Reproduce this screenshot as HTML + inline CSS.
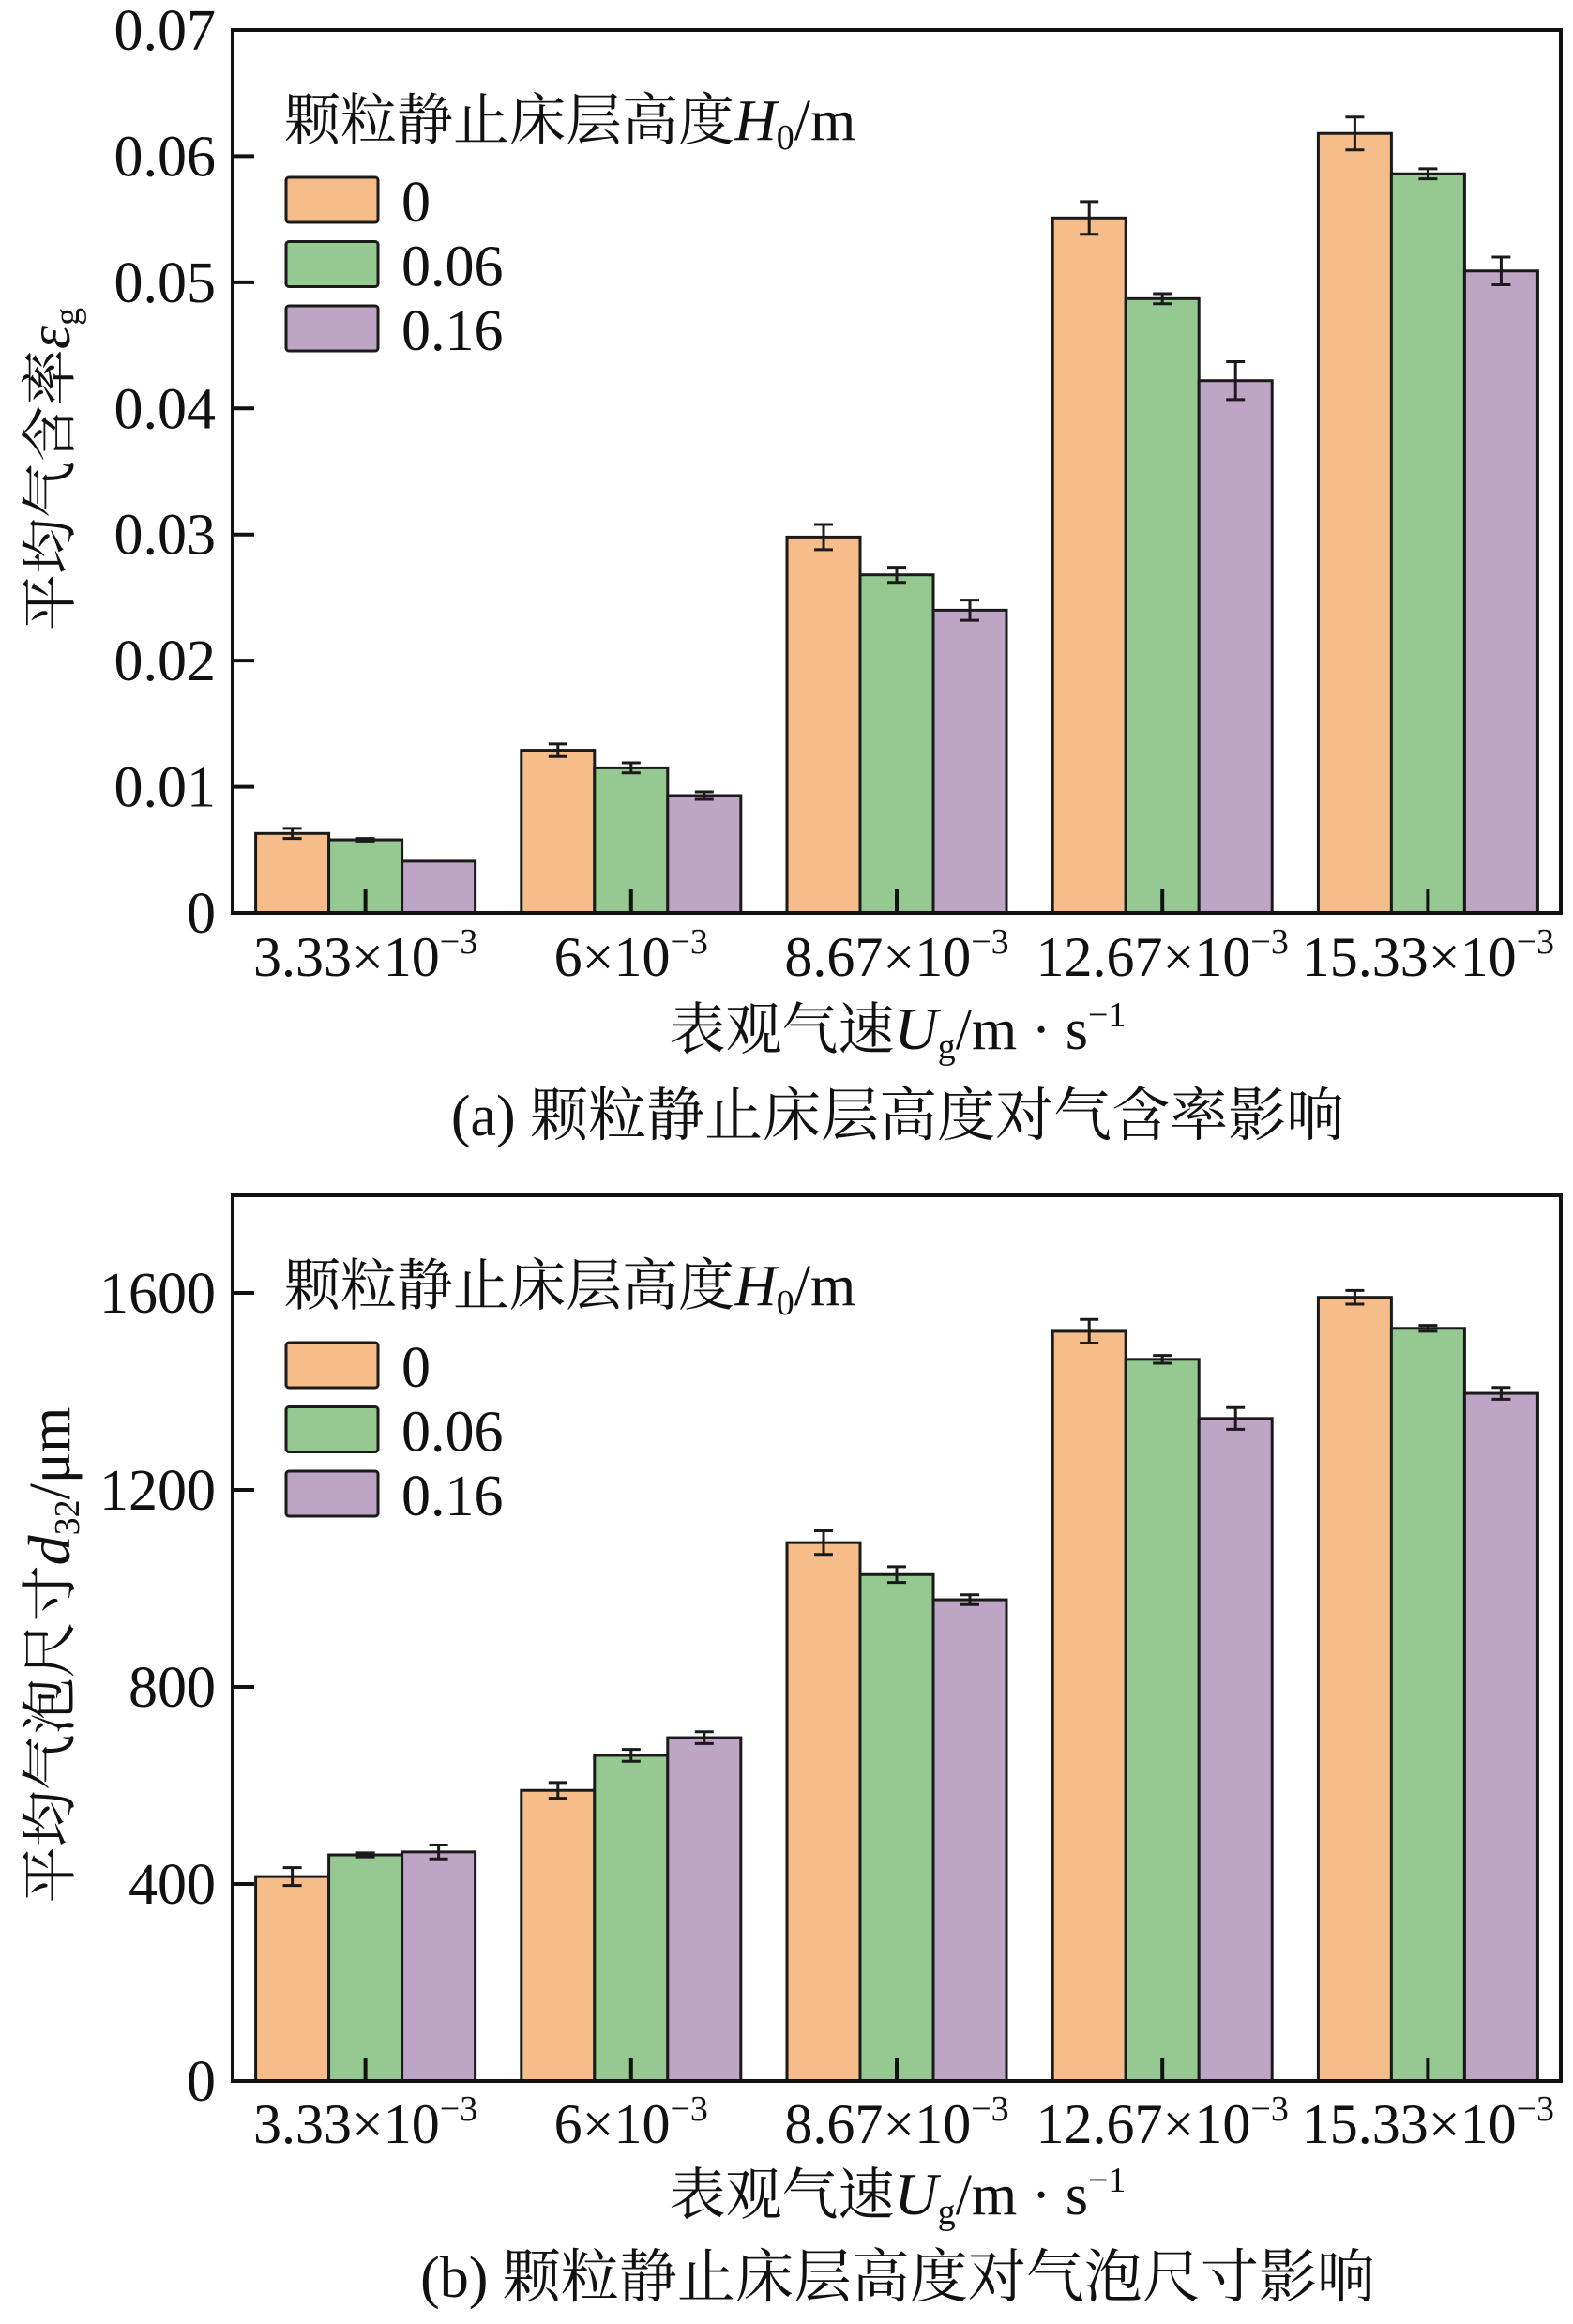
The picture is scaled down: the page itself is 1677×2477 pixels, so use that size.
<!DOCTYPE html>
<html><head><meta charset="utf-8">
<style>
html,body{margin:0;padding:0;background:#fff;}
svg{display:block;}
text{font-family:"Liberation Serif","Noto Serif CJK SC",serif;fill:#111;}
</style></head>
<body>
<svg id="svg" width="1677" height="2477" viewBox="0 0 1677 2477" xmlns="http://www.w3.org/2000/svg"></svg>
<script>
const categories = ["3.33","6","8.67","12.67","15.33"];
const seriesNames = ["0","0.06","0.16"];
const colors = ["#f6bd8a","#95c991","#bea4c5"];
// chart a: gas holdup
const holdA0 = [0.0063,0.0129,0.0298,0.0551,0.0618];
const holdA1 = [0.0058,0.0115,0.0268,0.0487,0.0586];
const holdA2 = [0.0041,0.0093,0.0240,0.0422,0.0509];
const errA0 = [0.0004,0.0005,0.0010,0.0013,0.0013];
const errA1 = [0.0001,0.0004,0.0006,0.0004,0.0004];
const errA2 = [0.0000,0.0003,0.0008,0.0015,0.0011];
const ticksA = [0,0.01,0.02,0.03,0.04,0.05,0.06,0.07];
const tickLabelsA = ["0","0.01","0.02","0.03","0.04","0.05","0.06","0.07"];
// chart b: bubble size
const sizeB0 = [415,590,1093,1522,1591];
const sizeB1 = [459,661,1028,1465,1528];
const sizeB2 = [465,697,977,1345,1396];
const errB0 = [18,16,24,24,14];
const errB1 = [4,12,16,8,6];
const errB2 = [14,12,10,22,12];
const ticksB = [0,400,800,1200,1600];
const tickLabelsB = ["0","400","800","1200","1600"];

const NS="http://www.w3.org/2000/svg";
const svg=document.getElementById('svg');
function el(tag,attrs,parent){const e=document.createElementNS(NS,tag);for(const k in attrs)e.setAttribute(k,attrs[k]);(parent||svg).appendChild(e);return e;}

function drawChart(cfg){
  const g=el('g',{});
  
  
  const L=248,R=1664,T=cfg.top,B=cfg.bottom;
  const y=v=>B-(v/cfg.ymax)*(B-T);
  const gw=(R-L)/categories.length;
  const bw=78;
  const cx=i=>L+gw*(i+0.5);
  const vals=[cfg.v0,cfg.v1,cfg.v2], errs=[cfg.e0,cfg.e1,cfg.e2];
  for(let s=0;s<3;s++){
    for(let i=0;i<categories.length;i++){
      const x0=cx(i)+(s-1.5)*bw;
      const r=el('rect',{x:x0,y:y(vals[s][i]),width:bw,height:B-y(vals[s][i]),fill:colors[s],stroke:'#1a1a1a','stroke-width':3},g);
      
      
      const xc=x0+bw/2, e=errs[s][i];
      if(e>0){
        const eb=el('path',{d:`M${xc},${y(vals[s][i]+e)}V${y(vals[s][i]-e)}M${xc-10},${y(vals[s][i]+e)}h20M${xc-10},${y(vals[s][i]-e)}h20`,stroke:'#1a1a1a','stroke-width':3,fill:'none'},g);
        
        
      }
    }
  }
  const frame=el('rect',{x:L,y:T,width:R-L,height:B-T,fill:'none',stroke:'#111','stroke-width':4},g);
  
  
  cfg.ticks.forEach((t,k)=>{
    el('line',{x1:L,x2:L+23,y1:y(t),y2:y(t),stroke:'#111','stroke-width':4},g);
    const tx=el('text',{x:230,y:y(t)+21,'text-anchor':'end','font-size':62},g);
    tx.textContent=cfg.tickLabels[k];
    
    
  });
  categories.forEach((c,i)=>{
    el('line',{x1:cx(i),x2:cx(i),y1:B,y2:B-25,stroke:'#111','stroke-width':4},g);
    const tx=el('text',{x:cx(i),y:cfg.xlabY,'text-anchor':'middle','font-size':60},g);
    tx.innerHTML=c+'×10<tspan dy="-24" font-size="38">−3</tspan>';
    
    
  });
  // legend
  const lt=el('text',{x:303,y:T+117,'font-size':60},g);
  lt.innerHTML='颗粒静止床层高度<tspan font-style="italic" font-size="62">H</tspan><tspan font-size="38" dy="10">0</tspan><tspan font-size="62" dy="-10">/m</tspan>';
  
  
  seriesNames.forEach((n,s)=>{
    const by=T+157+s*68.5;
    const r=el('rect',{x:305,y:by,width:98,height:48,rx:3,fill:colors[s],stroke:'#1a1a1a','stroke-width':3},g);
    
    
    const t=el('text',{x:428,y:by+47,'font-size':62},g);
    t.textContent=n;
    
    
  });
  const yt=el('text',{x:0,y:0,'font-size':60,'text-anchor':'middle',transform:`translate(74,${cfg.ytY}) rotate(-90)`},g);
  yt.innerHTML=cfg.ytitle;
  
  
  const xt=el('text',{x:957,y:cfg.xtY,'font-size':60,'text-anchor':'middle'},g);
  xt.innerHTML='表观气速<tspan font-style="italic" font-size="64">U</tspan><tspan font-size="38" dy="10">g</tspan><tspan font-size="62" dy="-10">/m · s</tspan><tspan font-size="38" dy="-24">−1</tspan>';
  
  
  const cp=el('text',{x:957,y:cfg.capY,'font-size':62,'text-anchor':'middle'},g);
  cp.textContent=cfg.caption;
  
  
}
drawChart({name:'chart-gas-holdup',key:'a',top:32,bottom:973,ymax:0.07,v0:holdA0,v1:holdA1,v2:holdA2,e0:errA0,e1:errA1,e2:errA2,ticks:ticksA,tickLabels:tickLabelsA,xlabY:1040,ytY:500,
  ytitle:'平均气含率<tspan font-style="italic" font-size="64">ε</tspan><tspan font-size="38" dy="10">g</tspan>',xtY:1118,capY:1210,caption:'(a) 颗粒静止床层高度对气含率影响'});
drawChart({name:'chart-bubble-size',key:'b',top:1274,bottom:2218,ymax:1798,v0:sizeB0,v1:sizeB1,v2:sizeB2,e0:errB0,e1:errB1,e2:errB2,ticks:ticksB,tickLabels:tickLabelsB,xlabY:2284,ytY:1764,
  ytitle:'平均气泡尺寸<tspan font-style="italic" font-size="64">d</tspan><tspan font-size="38" dy="10">32</tspan><tspan font-size="62" dy="-10">/μm</tspan>',xtY:2360,capY:2448,caption:'(b) 颗粒静止床层高度对气泡尺寸影响'});
</script>
</body></html>
